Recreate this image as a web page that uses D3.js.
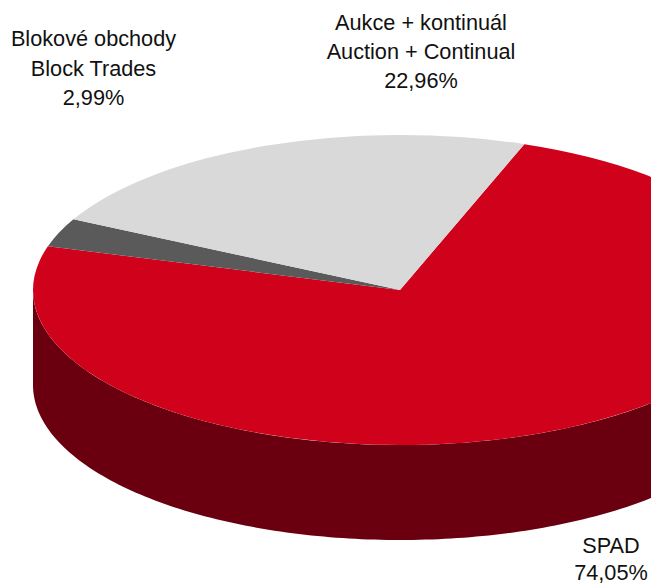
<!DOCTYPE html>
<html>
<head>
<meta charset="utf-8">
<script src="https://cdn.jsdelivr.net/npm/d3@7"></script>
<style>
  html, body { margin: 0; padding: 0; background: #fff; overflow: hidden; }
  svg { display: block; }
  text { font-family: "Liberation Sans", Arial, sans-serif; font-size: 21.7px; fill: #111; text-anchor: middle; }
</style>
</head>
<body>
<div id="chart"></div>
<script>
const categories = ['SPAD', 'Blokové obchody', 'Aukce + kontinuál'];
const values = [74.05, 2.99, 22.96];
const colors = ['#d0011b', '#5a5a5a', '#d9d9d9'];
const labelLines = [
    ['SPAD', '74,05%'],
    ['Blokové obchody', 'Block Trades', '2,99%'],
    ['Aukce + kontinuál', 'Auction + Continual', '22,96%']
];
const labelX = [611, 93.5, 421];
const labelY = [552.5, 46, 30];
const lineGap = [27.7, 29.5, 29];

const width = 651, height = 585;
const cx = 400, cy = 290, rx = 367, ry = 155, depth = 95;
const wallColor = '#6a000f';
const startDeg = 19.8;

const svg = d3.select('#chart').append('svg')
    .attr('width', width)
    .attr('height', height);

const pie = d3.pie().sort(null)
    .startAngle(startDeg * Math.PI / 180)
    .endAngle((startDeg + 360) * Math.PI / 180);
const slices = pie(values);

// front wall, only the lower half of the ellipse can be seen
const wallAngles = d3.range(90, 270.5, 1).map(d => d * Math.PI / 180);
const rimX = a => cx + rx * Math.sin(a);
const rimY = a => cy - ry * Math.cos(a);
const wallPoints = wallAngles.map(a => [rimX(a), rimY(a)])
    .concat(wallAngles.slice().reverse().map(a => [rimX(a), rimY(a) + depth]));
svg.append('path')
    .attr('d', d3.line()(wallPoints) + 'Z')
    .attr('fill', wallColor);

// top of the pie, circle squashed into an ellipse
const arc = d3.arc().innerRadius(0).outerRadius(rx);
svg.append('g')
    .attr('transform', `translate(${cx},${cy}) scale(1,${ry / rx})`)
    .selectAll('path')
    .data(slices)
    .join('path')
    .attr('d', arc)
    .attr('fill', (d, i) => colors[i]);

// labels
const labels = svg.append('g').selectAll('text')
    .data(labelLines)
    .join('text')
    .attr('x', (d, i) => labelX[i])
    .attr('y', (d, i) => labelY[i]);
labels.each(function(lines, i) {
    d3.select(this).selectAll('tspan')
        .data(lines)
        .join('tspan')
        .attr('x', labelX[i])
        .attr('y', (d, j) => labelY[i] + j * lineGap[i])
        .text(d => d);
});
</script>
</body>
</html>
